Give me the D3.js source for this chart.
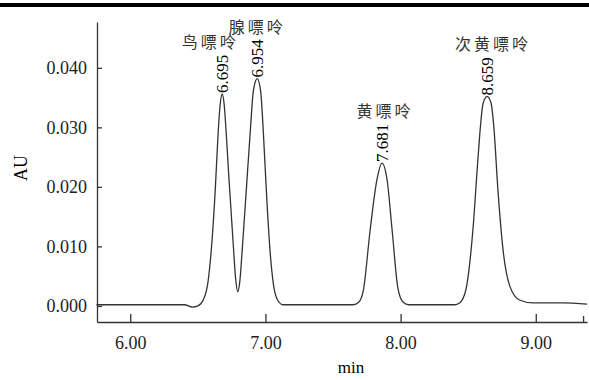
<!DOCTYPE html>
<html>
<head>
<meta charset="utf-8">
<script src="https://cdn.jsdelivr.net/npm/d3@7"></script>
<style>
  body { margin: 0; background: #fff; }
  .axis text { font-family: "Liberation Serif", serif; font-size: 18px; fill: #222; }
  .axis path, .axis line { stroke: #333; stroke-width: 1.3; }
</style>
</head>
<body>
<div id="chart"></div>
<script>
const width = 589
const height = 380

// chromatogram trace (min, AU)
const times = [5.75, 6.10, 6.40, 6.46, 6.50, 6.54, 6.575, 6.605, 6.63, 6.65, 6.665, 6.68, 6.695, 6.71, 6.73, 6.76, 6.78, 6.795, 6.81, 6.83, 6.86, 6.89, 6.91, 6.94, 6.965, 6.985, 7.01, 7.035, 7.06, 7.09, 7.13, 7.50, 7.65, 7.69, 7.725, 7.775, 7.825, 7.862, 7.90, 7.937, 7.98, 8.02, 8.06, 8.40, 8.42, 8.45, 8.49, 8.535, 8.57, 8.59, 8.61, 8.64, 8.67, 8.69, 8.72, 8.76, 8.81, 8.88, 8.98, 9.20, 9.38]
const absorb = [0.0002, 0.0002, 0.0002, -0.0002, 0.0000, 0.0010, 0.0040, 0.0110, 0.0200, 0.0290, 0.0338, 0.0356, 0.0338, 0.0290, 0.0215, 0.0110, 0.0045, 0.0024, 0.0040, 0.0100, 0.0200, 0.0300, 0.0360, 0.0382, 0.0360, 0.0290, 0.0180, 0.0090, 0.0035, 0.0010, 0.0002, 0.0002, 0.0002, 0.0006, 0.0027, 0.0128, 0.0212, 0.0240, 0.0212, 0.0128, 0.0030, 0.0006, 0.0002, 0.0002, 0.0003, 0.0008, 0.0035, 0.0128, 0.0240, 0.0300, 0.0340, 0.0352, 0.0340, 0.0300, 0.0195, 0.0090, 0.0032, 0.0010, 0.0005, 0.0005, 0.0003]

// peaks
const peakNames = ["鸟嘌呤", "腺嘌呤", "黄嘌呤", "次黄嘌呤"]
const peakLabels = ["6.695", "6.954", "7.681", "8.659"]
const peakTimes = [6.68, 6.94, 7.862, 8.64]
const peakHeights = [0.0356, 0.0382, 0.0240, 0.0352]
const nameShift = [-12, 0, 3, 6]

const xTicks = [6, 7, 8, 9]
const yTicks = [0, 0.01, 0.02, 0.03, 0.04]

const x = d3.scaleLinear().domain([5.754, 9.379]).range([97, 587])
const y = d3.scaleLinear().domain([-0.0027, 0.0477]).range([322, 22])

const svg = d3.select("#chart")
              .append("svg")
              .attr("width", width)
              .attr("height", height)

// heavy rule across the top
svg.append("line")
   .attr("x1", 0).attr("x2", width)
   .attr("y1", 5).attr("y2", 5)
   .attr("stroke", "#000")
   .attr("stroke-width", 4)

svg.append("g")
   .attr("class", "axis")
   .attr("transform", "translate(0,322)")
   .call(d3.axisBottom(x).tickValues(xTicks).tickFormat(d3.format(".2f")).tickSizeInner(-8).tickSizeOuter(0).tickPadding(14))

// small closing tick at the right end
svg.append("g")
   .attr("class", "axis")
   .attr("transform", "translate(0,322)")
   .call(d3.axisBottom(x).tickValues([9.35]).tickFormat("").tickSizeInner(-6).tickSizeOuter(0))
   .select(".domain").remove()

svg.append("g")
   .attr("class", "axis")
   .attr("transform", "translate(97,0)")
   .call(d3.axisLeft(y).tickValues(yTicks).tickFormat(d3.format(".3f")).tickSizeInner(-5).tickSizeOuter(0).tickPadding(10))

svg.append("text")
   .attr("transform", "translate(27,168) rotate(-90)")
   .attr("text-anchor", "middle")
   .style("font-family", "Liberation Serif, serif")
   .style("font-size", "18px")
   .text("AU")

svg.append("text")
   .attr("x", 351)
   .attr("y", 373)
   .attr("text-anchor", "middle")
   .style("font-family", "Liberation Serif, serif")
   .style("font-size", "17px")
   .text("min")

const trace = times.map((t, i) => [t, absorb[i]])

svg.append("path")
   .datum(trace)
   .attr("fill", "none")
   .attr("stroke", "#333")
   .attr("stroke-width", 1.3)
   .attr("d", d3.line().x(d => x(d[0])).y(d => y(d[1])).curve(d3.curveMonotoneX))

// retention times, written upward from each apex
svg.append("g")
   .selectAll("text")
   .data(peakLabels)
   .enter()
   .append("text")
   .attr("transform", (d, i) => `translate(${x(peakTimes[i])},${y(peakHeights[i]) - 1}) rotate(-90)`)
   .attr("dy", "0.35em")
   .style("font-family", "Liberation Serif, serif")
   .style("font-size", "17px")
   .text(d => d)

svg.append("g")
   .selectAll("text")
   .data(peakNames)
   .enter()
   .append("text")
   .attr("x", (d, i) => x(peakTimes[i]) + nameShift[i])
   .attr("y", (d, i) => y(peakHeights[i]) - 46)
   .attr("text-anchor", "middle")
   .style("font-family", "Noto Sans CJK SC, sans-serif")
   .style("font-size", "16px")
   .style("letter-spacing", "3px")
   .attr("fill", "#333")
   .text(d => d)
</script>
</body>
</html>
